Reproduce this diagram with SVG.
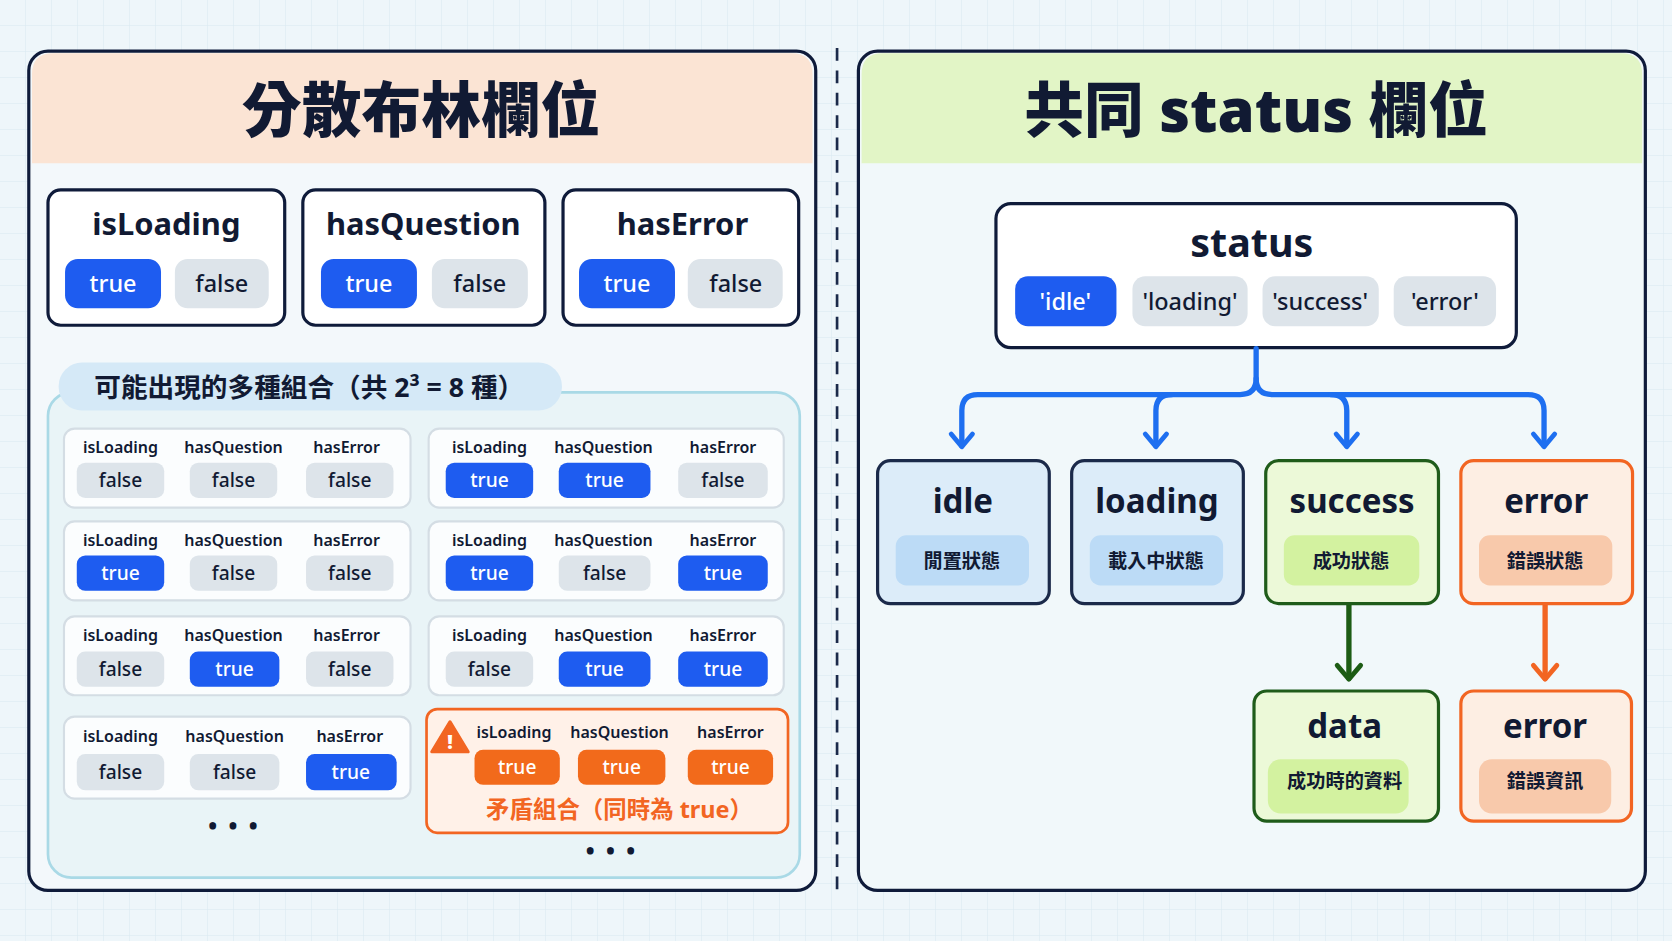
<svg xmlns="http://www.w3.org/2000/svg" width="1672" height="941" viewBox="0 0 1672 941">
<defs>
<pattern id="grid" width="26" height="26" patternUnits="userSpaceOnUse"><path d="M26 0V26M0 26H26" fill="none" stroke="#d9e9f0" stroke-width="1"/></pattern>
<style>
text{font-family:"Noto Sans","Noto Sans CJK TC",sans-serif;text-anchor:middle;fill:#111a33}
.ttl{font-size:56px;font-weight:900}
.h{font-size:29px;font-weight:700}
.lbl{font-size:15px;font-weight:600}
.pv{font-size:18px;font-weight:500}
.pb{font-size:22px;font-weight:500}
.wt{fill:#fff}
.blue{fill:#1e5cf0}
.gray{fill:#dde4ea}
.or{fill:#f26a1b}
.card{fill:#fbfdfe;stroke:#d4dde4;stroke-width:2}
.nt{font-size:31px;font-weight:700}
.ns{font-size:18px;font-weight:600}
.dots{font-size:20px;font-weight:900;letter-spacing:3px}
</style>
</defs>
<rect width="1672" height="941" fill="#eef6fa"/>
<rect width="1672" height="941" fill="url(#grid)"/>
<g transform="scale(1.06633)">
<g id="left-panel">
<rect x="27" y="48" width="738" height="787" rx="18" fill="#f3f8fb" stroke="#0f1b3a" stroke-width="3"/>
<path d="M30 70 Q30 50 50 50 H742 Q762 50 762 70 V153 H30Z" fill="#fbe4d4"/>
<text class="ttl" x="395" y="124">分散布林欄位</text>
</g>
<line x1="785" y1="45" x2="785" y2="835" stroke="#1b2a4a" stroke-width="2.5" stroke-dasharray="12 9"/>
<g id="right-panel">
<rect x="805" y="48" width="738" height="787" rx="18" fill="#f1f8fa" stroke="#0f1b3a" stroke-width="3"/>
<path d="M808 70 Q808 50 828 50 H1520 Q1540 50 1540 70 V153 H808Z" fill="#e2f5c6"/>
<text class="ttl" x="1178" y="124">共同 status 欄位</text>
</g>
<g id="isLoading">
<rect x="45" y="178" width="222" height="127" rx="12" fill="#fff" stroke="#0f1b3a" stroke-width="3"/>
<text class="h" x="156" y="220">isLoading</text>
<rect class="blue" x="61" y="243" width="90" height="46" rx="12"/><text class="pb wt" x="106" y="274">true</text>
<rect class="gray" x="164" y="243" width="88" height="46" rx="12"/><text class="pb" x="208" y="274">false</text>
</g>
<g id="hasQuestion">
<rect x="284" y="178" width="227" height="127" rx="12" fill="#fff" stroke="#0f1b3a" stroke-width="3"/>
<text class="h" x="397" y="220">hasQuestion</text>
<rect class="blue" x="301" y="243" width="90" height="46" rx="12"/><text class="pb wt" x="346" y="274">true</text>
<rect class="gray" x="405" y="243" width="90" height="46" rx="12"/><text class="pb" x="450" y="274">false</text>
</g>
<g id="hasError">
<rect x="528" y="178" width="221" height="127" rx="12" fill="#fff" stroke="#0f1b3a" stroke-width="3"/>
<text class="h" x="640" y="220">hasError</text>
<rect class="blue" x="543" y="243" width="90" height="46" rx="12"/><text class="pb wt" x="588" y="274">true</text>
<rect class="gray" x="645" y="243" width="89" height="46" rx="12"/><text class="pb" x="690" y="274">false</text>
</g>
<g id="combos">
<rect x="45" y="368" width="705" height="455" rx="22" fill="#e9f4f7" stroke="#a9d9e6" stroke-width="2.5"/>
<rect x="55" y="340" width="472" height="45" rx="22" fill="#d5e9f7"/>
<text x="290" y="372" style="font-size:25px;font-weight:700">可能出現的多種組合（共 2³ = 8 種）</text>
</g>
<g id="combo1"><rect class="card" x="60" y="402" width="325" height="74" rx="10"/>
<text class="lbl" x="113" y="425">isLoading</text><text class="lbl" x="219" y="425">hasQuestion</text><text class="lbl" x="325" y="425">hasError</text>
<rect class="gray" x="72" y="434" width="82" height="33" rx="8"/><text class="pv" x="113" y="457">false</text>
<rect class="gray" x="178" y="434" width="82" height="33" rx="8"/><text class="pv" x="219" y="457">false</text>
<rect class="gray" x="287" y="434" width="82" height="33" rx="8"/><text class="pv" x="328" y="457">false</text></g>
<g id="combo2"><rect class="card" x="402" y="402" width="333" height="74" rx="10"/>
<text class="lbl" x="459" y="425">isLoading</text><text class="lbl" x="566" y="425">hasQuestion</text><text class="lbl" x="678" y="425">hasError</text>
<rect class="blue" x="418" y="434" width="82" height="33" rx="8"/><text class="pv wt" x="459" y="457">true</text>
<rect class="blue" x="524" y="434" width="86" height="33" rx="8"/><text class="pv wt" x="567" y="457">true</text>
<rect class="gray" x="636" y="434" width="84" height="33" rx="8"/><text class="pv" x="678" y="457">false</text></g>
<g id="combo3"><rect class="card" x="60" y="489" width="325" height="74" rx="10"/>
<text class="lbl" x="113" y="512">isLoading</text><text class="lbl" x="219" y="512">hasQuestion</text><text class="lbl" x="325" y="512">hasError</text>
<rect class="blue" x="72" y="521" width="82" height="33" rx="8"/><text class="pv wt" x="113" y="544">true</text>
<rect class="gray" x="178" y="521" width="82" height="33" rx="8"/><text class="pv" x="219" y="544">false</text>
<rect class="gray" x="287" y="521" width="82" height="33" rx="8"/><text class="pv" x="328" y="544">false</text></g>
<g id="combo4"><rect class="card" x="402" y="489" width="333" height="74" rx="10"/>
<text class="lbl" x="459" y="512">isLoading</text><text class="lbl" x="566" y="512">hasQuestion</text><text class="lbl" x="678" y="512">hasError</text>
<rect class="blue" x="418" y="521" width="82" height="33" rx="8"/><text class="pv wt" x="459" y="544">true</text>
<rect class="gray" x="524" y="521" width="86" height="33" rx="8"/><text class="pv" x="567" y="544">false</text>
<rect class="blue" x="636" y="521" width="84" height="33" rx="8"/><text class="pv wt" x="678" y="544">true</text></g>
<g id="combo5"><rect class="card" x="60" y="578" width="325" height="74" rx="10"/>
<text class="lbl" x="113" y="601">isLoading</text><text class="lbl" x="219" y="601">hasQuestion</text><text class="lbl" x="325" y="601">hasError</text>
<rect class="gray" x="72" y="611" width="82" height="33" rx="8"/><text class="pv" x="113" y="634">false</text>
<rect class="blue" x="178" y="611" width="84" height="33" rx="8"/><text class="pv wt" x="220" y="634">true</text>
<rect class="gray" x="287" y="611" width="82" height="33" rx="8"/><text class="pv" x="328" y="634">false</text></g>
<g id="combo6"><rect class="card" x="402" y="578" width="333" height="74" rx="10"/>
<text class="lbl" x="459" y="601">isLoading</text><text class="lbl" x="566" y="601">hasQuestion</text><text class="lbl" x="678" y="601">hasError</text>
<rect class="gray" x="418" y="611" width="82" height="33" rx="8"/><text class="pv" x="459" y="634">false</text>
<rect class="blue" x="524" y="611" width="86" height="33" rx="8"/><text class="pv wt" x="567" y="634">true</text>
<rect class="blue" x="636" y="611" width="84" height="33" rx="8"/><text class="pv wt" x="678" y="634">true</text></g>
<g id="combo7"><rect class="card" x="60" y="672" width="325" height="77" rx="10"/>
<text class="lbl" x="113" y="696">isLoading</text><text class="lbl" x="220" y="696">hasQuestion</text><text class="lbl" x="328" y="696">hasError</text>
<rect class="gray" x="72" y="707" width="82" height="34" rx="8"/><text class="pv" x="113" y="731">false</text>
<rect class="gray" x="178" y="707" width="84" height="34" rx="8"/><text class="pv" x="220" y="731">false</text>
<rect class="blue" x="287" y="707" width="85" height="34" rx="8"/><text class="pv wt" x="329" y="731">true</text></g>
<g id="combo8"><rect x="400" y="665" width="339" height="116" rx="10" fill="#fff1e8" stroke="#f26522" stroke-width="2.5"/>
<path d="M422 677 L439 705 H405Z" fill="#f26522" stroke="#f26522" stroke-width="3" stroke-linejoin="round"/>
<text x="422" y="702" style="font-size:18px;font-weight:900;fill:#fff">!</text>
<text class="lbl" x="482" y="692">isLoading</text><text class="lbl" x="581" y="692">hasQuestion</text><text class="lbl" x="685" y="692">hasError</text>
<rect class="or" x="445" y="703" width="80" height="33" rx="8"/><text class="pv wt" x="485" y="726">true</text>
<rect class="or" x="542" y="703" width="82" height="33" rx="8"/><text class="pv wt" x="583" y="726">true</text>
<rect class="or" x="645" y="703" width="80" height="33" rx="8"/><text class="pv wt" x="685" y="726">true</text>
<text x="581" y="767" style="font-size:22px;font-weight:700;fill:#f26522">矛盾組合（同時為 true）</text></g>
<text class="dots" x="220" y="782">• • •</text>
<text class="dots" x="574" y="806">• • •</text>
<g id="status">
<rect x="934" y="191" width="488" height="135" rx="14" fill="#fff" stroke="#0f1b3a" stroke-width="3"/>
<text x="1174" y="241" style="font-size:37px;font-weight:700">status</text>
<rect class="blue" x="952" y="259" width="95" height="47" rx="12"/><text class="pb wt" x="999" y="291">'idle'</text>
<rect class="gray" x="1062" y="259" width="108" height="47" rx="12"/><text class="pb" x="1116" y="291">'loading'</text>
<rect class="gray" x="1184" y="259" width="109" height="47" rx="12"/><text class="pb" x="1238" y="291">'success'</text>
<rect class="gray" x="1307" y="259" width="96" height="47" rx="12"/><text class="pb" x="1355" y="291">'error'</text>
</g>
<g id="connectors" fill="none" stroke-width="5" stroke-linecap="round" stroke-linejoin="round">
<path d="M1178 327 V355 Q1178 370 1163 370 H917 Q902 370 902 385 V418" stroke="#1e6ff0"/>
<path d="M1178 355 Q1178 370 1193 370 H1433 Q1448 370 1448 385 V418" stroke="#1e6ff0"/>
<path d="M1084 418 V385 Q1084 370 1099 370" stroke="#1e6ff0"/>
<path d="M1263 418 V385 Q1263 370 1248 370" stroke="#1e6ff0"/>
<g stroke="#1e6ff0" stroke-width="4.5"><path d="M892 407 L902 419 L912 407"/><path d="M1074 407 L1084 419 L1094 407"/><path d="M1253 407 L1263 419 L1273 407"/><path d="M1438 407 L1448 419 L1458 407"/></g>
<path d="M1265 567 V636" stroke="#1d5c14"/><path d="M1254 624 L1265 637 L1276 624" stroke="#1d5c14" stroke-width="4.5"/>
<path d="M1449 567 V636" stroke="#f26522"/><path d="M1438 624 L1449 637 L1460 624" stroke="#f26522" stroke-width="4.5"/>
</g>
<g id="idle"><rect x="823" y="432" width="161" height="134" rx="12" fill="#dcecf9" stroke="#1b2a4a" stroke-width="3"/>
<text class="nt" x="903" y="481">idle</text><rect x="840" y="502" width="125" height="47" rx="10" fill="#bcdbf6"/><text class="ns" x="902" y="533">閒置狀態</text></g>
<g id="loading"><rect x="1005" y="432" width="161" height="134" rx="12" fill="#dcecf9" stroke="#1b2a4a" stroke-width="3"/>
<text class="nt" x="1085" y="481">loading</text><rect x="1022" y="502" width="125" height="47" rx="10" fill="#bcdbf6"/><text class="ns" x="1084" y="533">載入中狀態</text></g>
<g id="success"><rect x="1187" y="432" width="162" height="134" rx="12" fill="#ecf9d8" stroke="#1f5c1a" stroke-width="3"/>
<text class="nt" x="1268" y="481">success</text><rect x="1204" y="502" width="127" height="47" rx="10" fill="#d3f2a0"/><text class="ns" x="1267" y="533">成功狀態</text></g>
<g id="error"><rect x="1370" y="432" width="161" height="134" rx="12" fill="#fdeee3" stroke="#f26522" stroke-width="3"/>
<text class="nt" x="1450" y="481">error</text><rect x="1387" y="502" width="125" height="47" rx="10" fill="#f8c9ab"/><text class="ns" x="1449" y="533">錯誤狀態</text></g>
<g id="data"><rect x="1176" y="648" width="173" height="122" rx="12" fill="#ecf9d8" stroke="#1f5c1a" stroke-width="3"/>
<text class="nt" x="1261" y="692">data</text><rect x="1189" y="712" width="132" height="51" rx="12" fill="#d3f2a0"/><text class="ns" x="1261" y="739">成功時的資料</text></g>
<g id="error-info"><rect x="1370" y="648" width="160" height="122" rx="12" fill="#fdeee3" stroke="#f26522" stroke-width="3"/>
<text class="nt" x="1449" y="692">error</text><rect x="1387" y="712" width="124" height="51" rx="12" fill="#f8c9ab"/><text class="ns" x="1449" y="739">錯誤資訊</text></g>
</g>
</svg>
